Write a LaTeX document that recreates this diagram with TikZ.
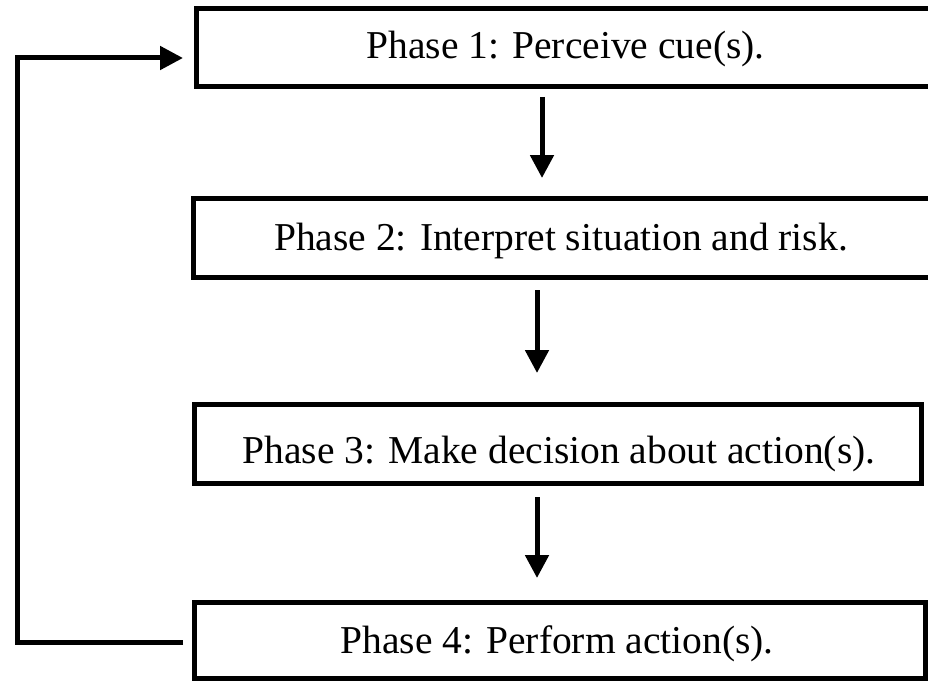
\documentclass[tikz,border=0pt]{standalone}
\usepackage{fontspec}
\setmainfont{Liberation Serif}
\usetikzlibrary{arrows.meta}
\tikzset{
  box/.style={draw=black, line width=5pt, fill=none, inner sep=0pt, rectangle},
  lbl/.style={inner sep=0pt, font=\fontsize{39.5}{46}\selectfont},
  arr/.style={draw=black, line width=5pt, -{Triangle[length=23pt,width=23pt]}}
}
\begin{document}
\begin{tikzpicture}[x=1pt,y=-1pt]
\useasboundingbox (0,0) rectangle (928,682);
\clip (0,0) rectangle (928,682);
\node[box, minimum width=744pt, minimum height=78pt] (b1) at (568,48) {};
\node[box, minimum width=747pt, minimum height=79pt] (b2) at (566.5,237.5) {};
\node[box, minimum width=727pt, minimum height=79pt] (b3) at (557.5,443.5) {};
\node[box, minimum width=731pt, minimum height=76pt] (b4) at (559.5,640) {};
\node[lbl, anchor=base] (t1) at (565.5,59) {Phase 1: Perceive cue(s).};
\node[lbl, anchor=base] (t2) at (561,250) {Phase 2: Interpret situation and risk.};
\node[lbl, anchor=base] (t3) at (559,463) {Phase 3: Make decision about action(s).};
\node[lbl, anchor=base east] (t4) at (774,653) {Phase 4: Perform action(s).};
\coordinate (x1) at (542,0);
\coordinate (x2) at (537,0);
\coordinate (c1) at (17,642);
\coordinate (c2) at (17,58);
\draw[arr, shorten <=7.5pt, shorten >=17.5pt] (b1.south -| x1) -- (b2.north -| x1);
\draw[arr, shorten <=10.5pt, shorten >=28.5pt] (b2.south -| x2) -- (b3.north -| x2);
\draw[arr, shorten <=11.5pt, shorten >=21.5pt] (b3.south -| x2) -- (b4.north -| x2);
\draw[arr, shorten <=8.5pt, shorten >=10.5pt] (b4.west |- c1) -- (c1) -- (c2) -- (b1.west |- c2);
\end{tikzpicture}
\end{document}
